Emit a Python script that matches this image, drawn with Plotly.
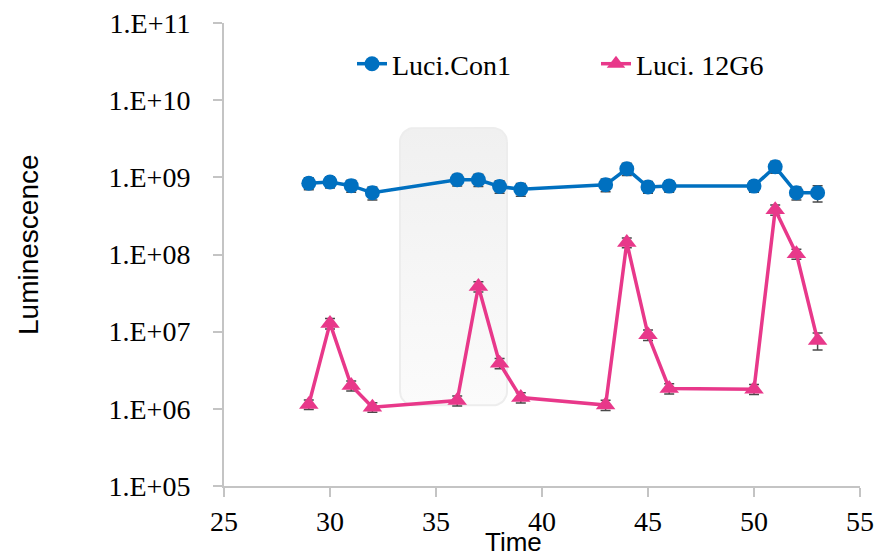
import numpy as np
import plotly.graph_objects as go

# Sampling times and mean luminescence for the two reporters
time = [29, 30, 31, 32, 36, 37, 38, 39, 43, 44, 45, 46, 50, 51, 52, 53]
con1 = [8.4e8, 8.7e8, 7.8e8, 6.3e8, 9.3e8, 9.3e8, 7.6e8, 7.0e8,
        8.0e8, 1.29e9, 7.5e8, 7.7e8, 7.7e8, 1.37e9, 6.3e8, 6.3e8]
con1_err = [1.5e8, 1.4e8, 1.4e8, 1.2e8, 1.6e8, 1.7e8, 1.4e8, 1.3e8,
            1.5e8, 2.3e8, 1.3e8, 1.3e8, 1.3e8, 2.4e8, 1.2e8, 1.5e8]
g6 = [1.14e6, 1.28e7, 2.0e6, 1.05e6, 1.28e6, 3.85e7, 3.9e6, 1.4e6,
      1.12e6, 1.43e8, 9.1e6, 1.84e6, 1.8e6, 3.8e8, 1.02e8, 7.7e6]
g6_err = [1.6e5, 2.0e6, 3.0e5, 1.5e5, 1.9e5, 5.8e6, 6.0e5, 2.1e5,
          1.7e5, 2.1e7, 1.4e6, 2.8e5, 2.7e5, 5.7e7, 1.5e7, 1.9e6]

names = ["Luci.Con1", "Luci. 12G6"]
ytick_vals = [1e5, 1e6, 1e7, 1e8, 1e9, 1e10, 1e11]
ytick_text = ["1.E+05", "1.E+06", "1.E+07", "1.E+08", "1.E+09", "1.E+10", "1.E+11"]
xtick_vals = [25, 30, 35, 40, 45, 50, 55]

BLUE = "#0070c0"
PINK = "#e8388a"
AXIS = "#c4c4c4"
ERR = "#4a4a4a"

# Canvas and plot-area geometry
W, H = 884, 559
ML, MR, MT, MB = 224, 24, 23, 73
PW, PH = W - ML - MR, H - MT - MB
XR = (25, 55)
YR = (5, 11)  # log10 range

# Highlighted window (rounded box behind the curves)
box_x = (33.3, 38.35)
box_logy = (6.045, 9.64)
box_radius_px = 14

rx = box_radius_px * (XR[1] - XR[0]) / PW
ry = box_radius_px * (YR[1] - YR[0]) / PH
corners = [
    (box_x[1] - rx, box_logy[1] - ry, 0, 90),
    (box_x[0] + rx, box_logy[1] - ry, 90, 180),
    (box_x[0] + rx, box_logy[0] + ry, 180, 270),
    (box_x[1] - rx, box_logy[0] + ry, 270, 360),
]
bx, by = [], []
for cx, cy, a0, a1 in corners:
    for a in np.linspace(np.radians(a0), np.radians(a1), 10):
        bx.append(cx + rx * np.cos(a))
        by.append(10 ** (cy + ry * np.sin(a)))
bx.append(bx[0])
by.append(by[0])

fig = go.Figure()

fig.add_trace(go.Scatter(
    x=bx, y=by, mode="lines", fill="toself",
    line=dict(color="#ededed", width=2),
    fillgradient=dict(type="vertical",
                      colorscale=[[0, "#fbfbfb"], [1, "#f0f0f0"]]),
    hoverinfo="skip", showlegend=False,
))

fig.add_trace(go.Scatter(
    x=time, y=con1, name=names[0], mode="lines+markers",
    line=dict(color=BLUE, width=3.5),
    marker=dict(symbol="circle", size=15, color=BLUE),
    error_y=dict(type="data", array=con1_err, color=ERR,
                 thickness=1.5, width=5),
))

fig.add_trace(go.Scatter(
    x=time, y=g6, name=names[1], mode="lines+markers",
    line=dict(color=PINK, width=3.5),
    marker=dict(symbol="triangle-up", size=17, color=PINK),
    error_y=dict(type="data", array=g6_err, color=ERR,
                 thickness=1.5, width=5),
))

tick_font = dict(family="Liberation Serif, Times New Roman, serif", size=28, color="black")

fig.update_layout(
    width=W, height=H,
    margin=dict(l=ML, r=MR, t=MT, b=MB),
    paper_bgcolor="white", plot_bgcolor="white",
    showlegend=True,
    legend=dict(orientation="h", x=(352 - ML) / PW, xanchor="left",
                y=(H - MB - 64) / PH, yanchor="middle",
                font=tick_font, bgcolor="rgba(0,0,0,0)",
                entrywidth=199, entrywidthmode="pixels"),
    xaxis=dict(range=list(XR), tickvals=xtick_vals, showgrid=False,
               zeroline=False, showline=True, linecolor=AXIS, linewidth=2,
               ticks="outside", ticklen=9, tickcolor=AXIS, tickwidth=2,
               tickfont=tick_font, automargin=False),
    yaxis=dict(type="log", range=list(YR), tickvals=ytick_vals, ticktext=ytick_text,
               showgrid=False, zeroline=False, showline=True, linecolor=AXIS,
               linewidth=2, ticks="outside", ticklen=9, tickcolor=AXIS,
               tickwidth=2, tickfont=tick_font, ticklabelstandoff=17,
               automargin=False),
    annotations=[
        dict(text="Time", xref="paper", yref="paper",
             x=(513 - ML) / PW, y=-(559 - (H - MB)) / PH,
             xanchor="center", yanchor="bottom", showarrow=False,
             font=dict(family="Liberation Sans, Arial, sans-serif",
                       size=26, color="black")),
        dict(text="Luminescence", xref="paper", yref="paper",
             x=-(ML - 28) / PW, y=(H - MB - 245) / PH, textangle=-90,
             xanchor="center", yanchor="middle", showarrow=False,
             font=dict(family="Liberation Sans, Arial, sans-serif", size=28, color="black")),
    ],
)

fig.write_html("out.html")
